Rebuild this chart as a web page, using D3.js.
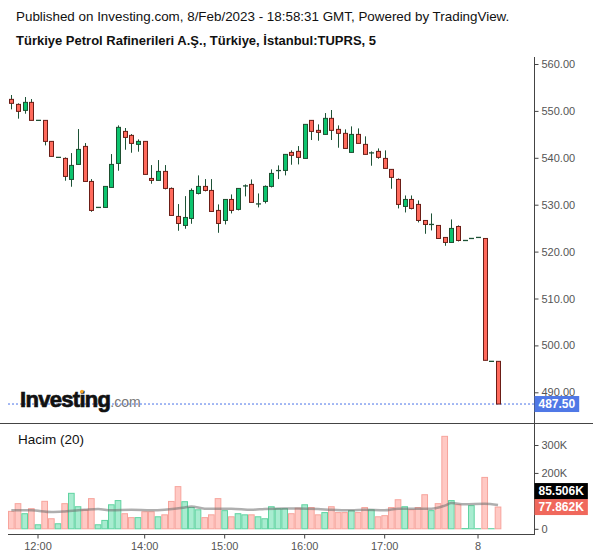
<!DOCTYPE html>
<html><head><meta charset="utf-8">
<script src="https://cdn.jsdelivr.net/npm/d3@7/dist/d3.min.js"></script>
<style>
html,body{margin:0;padding:0;background:#fff;}
svg{display:block;font-family:"Liberation Sans",Arial,sans-serif;}
</style></head>
<body>
<svg id="chart" width="600" height="558"></svg>
<script>
// ---- data ----
const opens  = [552.46,551.39,550.11,551.82,547.98,547.98,543.50,540.09,539.87,535.39,538.59,542.43,534.96,529.42,529.42,533.68,538.80,545.63,544.78,542.86,543.50,535.60,535.18,537.10,533.47,527.50,525.58,527.07,532.40,533.90,533.04,528.78,526.64,531.12,529.00,533.90,534.33,530.06,530.70,533.90,537.17,537.31,541.15,541.37,539.87,547.98,545.85,544.99,548.41,546.06,545.21,541.15,544.99,542.86,540.94,541.37,539.87,537.53,535.39,529.63,531.12,530.06,526.64,525.79,525.58,523.02,521.95,525.36,522.37,522.80,523.02,522.80,496.60,496.60];
const highs  = [553.39,551.61,552.96,552.53,547.98,547.98,543.50,540.09,540.09,541.01,546.13,543.14,535.46,529.42,533.90,540.80,546.91,546.35,545.06,543.93,543.50,538.45,539.52,538.45,533.68,530.13,531.83,533.47,536.25,535.46,535.46,530.06,531.12,532.19,533.47,534.33,535.39,532.40,534.11,537.53,538.38,540.80,541.58,542.50,547.13,547.98,547.13,549.54,550.19,546.91,546.06,546.70,546.27,544.57,541.37,542.00,541.58,537.53,535.60,531.97,531.97,530.91,526.64,528.14,525.58,523.02,526.86,525.58,522.37,522.80,523.02,522.80,496.60,496.60];
const lows   = [550.33,548.34,549.40,547.98,547.98,542.65,540.30,540.09,535.11,533.83,538.59,534.96,528.49,529.42,529.42,533.68,537.24,541.72,541.08,541.30,536.46,534.47,535.18,533.26,527.71,524.44,524.87,525.93,532.19,532.83,528.56,524.01,525.79,528.14,528.78,531.77,530.49,529.42,530.27,533.68,535.46,536.25,538.52,538.59,539.87,543.79,543.64,544.99,543.79,542.15,542.00,541.15,543.07,540.73,538.31,539.80,537.74,533.40,529.20,528.35,528.99,526.22,523.80,524.51,522.80,521.24,521.95,522.16,522.37,522.80,523.02,496.82,496.60,487.50];
const closes = [551.61,549.90,551.82,547.98,547.98,543.50,540.30,540.09,536.03,538.38,541.79,534.96,528.78,529.42,533.90,538.59,546.49,544.35,543.07,543.50,536.46,535.18,537.10,533.47,527.71,526.00,527.28,533.04,533.90,533.04,528.56,526.00,531.12,528.78,533.47,534.11,530.49,530.27,533.90,536.67,537.39,540.73,540.52,540.09,547.13,545.63,545.42,548.41,545.85,545.21,542.00,544.99,543.07,540.73,541.15,540.09,537.74,535.82,530.06,531.12,529.20,526.64,525.79,525.79,522.80,521.95,524.94,522.37,522.37,522.80,523.02,496.82,496.60,487.50];
// volume in thousands
const volumes = [62.4,90,54,72,14.4,98.4,36,18,90,127,79,68,108,14.4,30,86,101,54,40,40,61,61,43,50,98,151,97,76,68,40,50,108,65,43,54,50,50,43,36,79,72,72,54,74,86,76,50,58,79,58,58,65,58,76,68,43,47,76,104,79,68,76,122,65,90,331,101,86,1,83,0.5,184,0.5,77.862];
// volume moving average (20)
const maIndex = [0,3,6,8,11,13,15,18,21,23,26,27,29,33,36,38,41,43,46,48,51,53,56,58,61,63,65,66,68,71,73];
const maValue = [66,66,60,62,68,71,66,68,66,68,76,80,72,72,68,71,73,73,71,68,66,68,66,72,72,72,83,92,88,90,85.506];
const timeTickIndex = [4,20,32,44,56,70];
const timeTickLabels = ["12:00","14:00","15:00","16:00","17:00","8"];
const priceTicks = [490,500,510,520,530,540,550,560];
const volumeTicks = [0,200,300];
const lastPrice = 487.50;
const lastVolume = 77.862;
const lastVolumeMA = 85.506;
const titleLine1 = "Published on Investing.com, 8/Feb/2023 - 18:58:31 GMT, Powered by TradingView.";
const titleLine2 = "Türkiye Petrol Rafinerileri A.Ş., Türkiye, İstanbul:TUPRS, 5";
const volumeTitle = "Hacim (20)";

// ---- layout ----
const svg = d3.select("#chart");
const plotL = 8, plotR = 534.5;
const nSlots = 79;
const x = d3.scaleBand().domain(d3.range(nSlots)).range([plotL, plotL + nSlots*6.667]).padding(0);
const cx = i => x(i) + x.bandwidth()/2;
const y = d3.scaleLinear().domain([490,560]).range([392.3,64]);
const yv = d3.scaleLinear().domain([0,300]).range([528.8,445]);

const GREEN_FILL="#0cc46e", GREEN_LINE="#1d4f30", RED_FILL="#ff6a5c", RED_LINE="#6b1d16", WICK="#1d5236";
const axisColor = "#555";

// titles
svg.append("text").attr("x",16).attr("y",21).attr("font-size",13.4).attr("fill","#111").text(titleLine1);
svg.append("text").attr("x",16).attr("y",45).attr("font-size",13).attr("font-weight","bold").attr("fill","#111").text(titleLine2);

// separators & axes lines
svg.append("line").attr("x1",0).attr("x2",593).attr("y1",423.5).attr("y2",423.5).attr("stroke","#444").attr("stroke-width",1);
svg.append("line").attr("x1",plotL).attr("x2",plotR).attr("y1",534.5).attr("y2",534.5).attr("stroke","#444").attr("stroke-width",1);
svg.append("line").attr("x1",plotR).attr("x2",plotR).attr("y1",57).attr("y2",535).attr("stroke","#444").attr("stroke-width",1);

// price axis
const pAxis = d3.axisRight(y).tickValues(priceTicks).tickSize(4).tickPadding(3).tickFormat(d3.format(".2f"));
const pg = svg.append("g").attr("transform",`translate(${plotR},0)`).call(pAxis);
pg.select(".domain").remove();
pg.selectAll("line").attr("stroke","#444");
pg.selectAll("text").attr("fill",axisColor).attr("font-size",11).attr("font-family","Liberation Sans, Arial, sans-serif");

// volume axis
const vAxis = d3.axisRight(yv).tickValues(volumeTicks).tickSize(4).tickPadding(3).tickFormat(d => d===0 ? "0" : d+"K");
const vg = svg.append("g").attr("transform",`translate(${plotR},0)`).call(vAxis);
vg.select(".domain").remove();
vg.selectAll("line").attr("stroke","#444");
vg.selectAll("text").attr("fill",axisColor).attr("font-size",11).attr("font-family","Liberation Sans, Arial, sans-serif");

// time axis
const tg = svg.append("g").attr("transform","translate(0,534.5)");
timeTickIndex.forEach((ti,k)=>{
  tg.append("line").attr("x1",cx(ti)).attr("x2",cx(ti)).attr("y1",0).attr("y2",4).attr("stroke","#444");
  tg.append("text").attr("x",cx(ti)).attr("y",15).attr("text-anchor","middle").attr("font-size",11).attr("fill",axisColor).text(timeTickLabels[k]);
});

// last price dotted line
svg.append("line").attr("x1",plotL).attr("x2",plotR).attr("y1",y(lastPrice)).attr("y2",y(lastPrice))
  .attr("stroke","#4a72e8").attr("stroke-width",1).attr("stroke-dasharray","2,2");

// logo
const logo = svg.append("text").attr("x",20).attr("y",407).attr("font-family","Liberation Sans, Arial, sans-serif");
logo.append("tspan").attr("font-size",22).attr("font-weight","bold").attr("letter-spacing",-0.7)
  .attr("fill","#111").attr("stroke","#111").attr("stroke-width",0.7).text("Investing");
logo.append("tspan").attr("font-size",14).attr("fill","#777").text(".com");
svg.append("circle").attr("cx",82).attr("cy",391.5).attr("r",1.7).attr("fill","#f5a623");

// candles
const candles = d3.range(opens.length).map(i=>({i,o:opens[i],h:highs[i],l:lows[i],c:closes[i]}));
const cg = svg.append("g");
candles.forEach(d=>{
  const xc = Math.round(cx(d.i))+0.5;
  const up = d.c >= d.o;
  if (d.h > d.l) cg.append("line").attr("x1",xc).attr("x2",xc).attr("y1",y(d.h)).attr("y2",y(d.l)).attr("stroke",WICK).attr("stroke-width",1);
  const top = y(Math.max(d.o,d.c)), bot = y(Math.min(d.o,d.c));
  if (bot - top < 1.2) {
    cg.append("line").attr("x1",xc-2.5).attr("x2",xc+2.5).attr("y1",(top+bot)/2).attr("y2",(top+bot)/2).attr("stroke",WICK).attr("stroke-width",1.3);
  } else {
    cg.append("rect").attr("x",xc-2).attr("y",top).attr("width",4).attr("height",bot-top)
      .attr("fill",up?GREEN_FILL:RED_FILL).attr("stroke",up?GREEN_LINE:RED_LINE).attr("stroke-width",1);
  }
});

// volume
svg.append("text").attr("x",18).attr("y",444).attr("font-size",13.5).attr("fill","#111").text(volumeTitle);
const vgBars = svg.append("g");
candles.forEach(d=>{
  const up = d.c >= d.o;
  const v = volumes[d.i];
  const top = yv(v), bot = yv(0);
  vgBars.append("rect").attr("x",x(d.i)+0.5).attr("y",top).attr("width",x.bandwidth()-1).attr("height",Math.max(0,bot-top))
    .attr("fill",up?"#a8ecd0":"#ffc9c4").attr("stroke",up?"#5fd3a0":"#f7a49c").attr("stroke-width",1);
});
const maLine = d3.line().x((d,k)=>cx(maIndex[k])).y(d=>yv(d)).curve(d3.curveMonotoneX);
svg.append("path").attr("d",maLine(maValue)).attr("fill","none").attr("stroke","rgba(110,110,110,0.55)").attr("stroke-width",2.5);

// price labels
function tag(val, yy, bg, fmt){
  const g = svg.append("g");
  const t = g.append("text").attr("x",plotR+4).attr("y",yy+4).attr("font-size",12).attr("font-weight","bold").attr("fill","#fff").text(fmt(val));
  const w = t.node().getComputedTextLength();
  g.insert("rect","text").attr("x",plotR).attr("y",yy-8).attr("width",w+8).attr("height",16).attr("fill",bg);
}
tag(lastPrice, y(lastPrice), "#4f78e6", d3.format(".2f"));
const yVol = yv(lastVolume);
tag(lastVolume, yVol, "#f0685c", d=>d3.format(".3f")(d)+"K");
tag(lastVolumeMA, Math.min(yv(lastVolumeMA), yVol-16), "#000", d=>d3.format(".3f")(d)+"K");
</script>
</body></html>
